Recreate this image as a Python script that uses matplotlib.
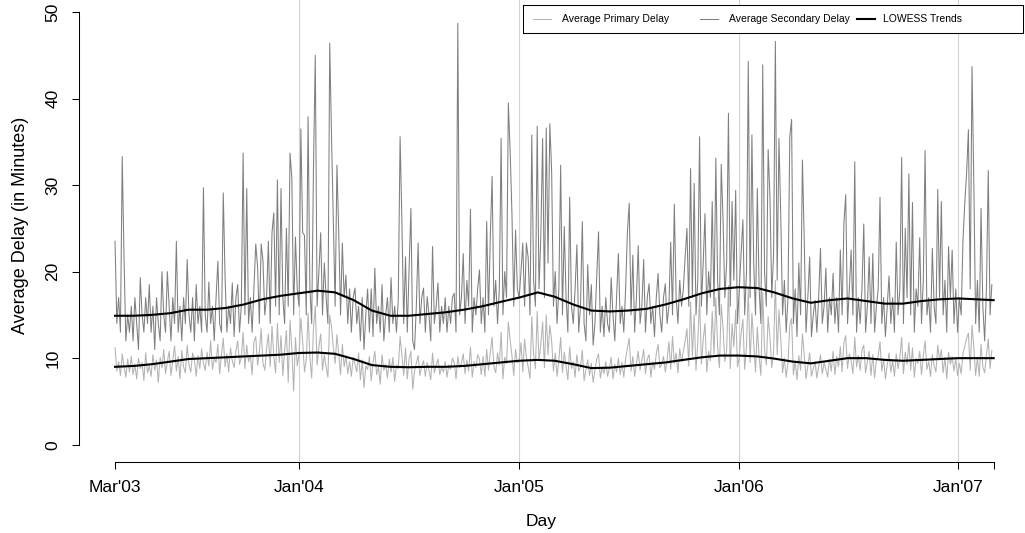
import pandas as pd
import matplotlib.pyplot as plt
import matplotlib.dates as mdates

plt.rcParams['font.family'] = ['Liberation Sans', 'DejaVu Sans']

# average delay (minutes), one value every third day from 1 Mar 2003
prim_2003 = [11.2, 8.5, 9.6, 8.0, 10.5, 9.0, 7.8, 9.9, 8.4, 10.2,
             8.1, 9.3, 7.6, 10.0, 8.8, 9.5, 7.4, 10.6, 8.3, 9.1,
             7.9, 10.4, 8.6, 9.8, 7.2, 10.1, 8.9, 11.0, 8.2, 9.6,
             10.8, 8.0, 9.7, 11.4, 8.5, 10.2, 7.6, 10.9, 9.0, 8.3,
             11.5, 9.2, 8.4, 10.6, 9.8, 7.9, 10.3, 8.8, 11.1, 9.4,
             8.6, 10.7, 9.1, 12.0, 8.7, 10.0, 9.5, 11.6, 8.2, 10.4,
             12.3, 9.0, 10.5, 8.4, 11.2, 9.7, 8.9, 10.8, 12.0, 9.3,
             10.1, 13.0, 8.8, 11.5, 9.6, 10.3, 8.1, 11.9, 12.5, 9.2,
             10.7, 13.4, 9.4, 8.6, 11.1, 12.8, 9.0, 13.7, 10.2, 8.3,
             14.0, 9.5, 12.6, 8.0, 10.9, 13.2, 7.2, 14.4, 11.0, 6.2,
             12.4, 9.1]
prim_2004 = [10.5, 14.6, 12.0, 8.4, 9.8, 15.2, 10.1, 7.7, 13.5, 16.0,
             9.2, 11.3, 12.8, 8.6, 10.4, 9.0, 7.8, 15.0, 13.6, 11.2,
             9.4, 12.7, 10.5, 8.1, 11.6, 9.0, 10.3, 8.2, 9.6, 7.9,
             10.1, 9.3, 8.4, 10.6, 7.5, 9.8, 6.6, 9.1, 8.7, 10.2,
             7.4, 9.5, 10.8, 8.1, 9.0, 7.0, 10.4, 8.6, 9.3, 7.7,
             9.9, 8.4, 10.1, 7.3, 9.2, 8.8, 12.5, 10.4, 8.0, 11.2,
             7.6, 9.9, 10.8, 6.4, 8.5, 9.4, 10.3, 8.0, 9.1, 9.7,
             7.9, 9.5, 8.6, 7.5, 10.6, 8.3, 9.2, 9.9, 8.1, 9.0,
             8.4, 9.6, 7.8, 9.2, 8.7, 10.0, 9.5, 7.6, 10.2, 8.9,
             9.4, 10.5, 8.2, 9.8, 8.5, 11.3, 7.8, 9.6, 8.9, 10.4,
             9.9, 8.1, 10.2, 7.9, 11.0, 8.6, 10.7, 12.4, 9.0, 8.3,
             10.6, 9.2, 13.0, 7.6, 10.1, 9.4, 14.2, 12.1, 10.3, 8.0,
             11.0, 9.5]
prim_2005 = [9.6, 11.8, 8.4, 12.2, 10.1, 9.0, 7.6, 14.8, 10.5, 8.8,
             15.4, 9.7, 11.6, 14.2, 8.9, 15.0, 10.4, 13.8, 12.0, 8.5,
             10.6, 7.9, 9.8, 12.4, 8.3, 10.7, 9.1, 7.5, 11.3, 8.8,
             9.6, 7.8, 10.4, 8.5, 9.0, 10.9, 7.4, 8.7, 9.8, 8.0,
             9.4, 7.2, 8.6, 9.9, 10.5, 7.7, 9.0, 8.2, 9.6, 7.9,
             8.8, 10.1, 7.6, 9.3, 8.4, 10.0, 8.1, 9.5, 7.8, 9.9,
             11.2, 12.3, 8.5, 10.2, 7.9, 9.4, 10.8, 8.6, 9.7, 11.0,
             8.2, 9.9, 10.4, 7.8, 9.6, 8.7, 10.5, 11.6, 8.9, 9.3,
             10.2, 8.4, 9.8, 11.9, 8.7, 12.5, 9.4, 10.6, 8.3, 11.1,
             9.6, 10.8, 12.0, 13.4, 9.1, 16.5, 10.2, 15.0, 8.6, 11.7,
             17.2, 9.3, 12.1, 14.0, 8.4, 10.8, 9.7, 15.4, 10.5, 17.0,
             11.2, 8.9, 16.2, 13.5, 9.6, 10.9, 18.4, 8.8, 14.0, 11.3,
             15.6, 9.0]
prim_2006 = [10.2, 12.8, 14.5, 8.7, 11.4, 18.0, 9.5, 15.2, 11.8, 8.4,
             13.6, 10.1, 8.0, 17.6, 11.0, 9.2, 14.8, 12.4, 8.9, 10.7,
             19.0, 10.4, 15.6, 12.2, 8.3, 10.0, 7.8, 9.5, 13.8, 14.6,
             8.1, 9.7, 7.5, 10.3, 8.6, 12.8, 10.4, 7.6, 9.1, 10.6,
             7.9, 8.8, 9.6, 7.7, 9.0, 10.4, 8.2, 9.5, 8.7, 7.8,
             9.9, 8.5, 10.8, 8.1, 10.2, 9.0, 11.3, 8.4, 11.8, 12.6,
             8.8, 10.5, 9.7, 8.2, 12.4, 9.0, 10.3, 8.6, 10.9, 11.5,
             8.3, 9.6, 10.8, 8.0, 10.4, 7.7, 9.8, 10.2, 11.9, 8.5,
             9.9, 7.6, 9.2, 10.6, 8.4, 9.7, 7.9, 10.5, 8.8, 10.0,
             12.4, 8.2, 10.7, 9.3, 11.8, 8.6, 11.2, 7.8, 10.0, 9.4,
             10.8, 8.1, 10.3, 12.0, 8.7, 9.6, 7.9, 10.4, 9.1, 8.4,
             11.5, 9.8, 11.0, 8.3, 10.1, 7.6, 10.7, 9.3, 10.2, 8.5,
             9.9, 8.0]
prim_2007 = [9.4, 8.2, 10.6, 11.4, 12.3, 12.9, 8.6, 13.8, 11.2, 8.0,
             10.1, 7.9, 11.6, 9.0, 8.3, 10.4, 12.2, 8.8, 10.9]

sec_2003 = [23.5, 14, 17, 13, 33.3, 21.4, 12, 15, 13, 16,
            12, 17, 14, 11, 19.3, 15, 13, 17, 14, 18.5,
            13, 16, 11, 17, 14, 12, 20, 15, 13, 20,
            16, 12, 17, 14, 23.5, 13, 16, 12, 17, 14,
            21.4, 15, 13, 17, 12, 18.5, 14, 16, 13, 29.7,
            15, 13, 18.8, 14, 16, 12, 17, 21.2, 14, 13,
            29.1, 19.3, 13, 16, 14, 18.7, 12.5, 17, 18.5, 13,
            16, 33.7, 15, 29.6, 14, 17, 13, 18, 23.2, 20.6,
            14, 23.2, 21.3, 15, 17, 23.5, 14, 24.5, 26.8, 16,
            30.6, 15, 29.6, 17, 14, 25.0, 16, 33.7, 30.8, 15,
            24.0, 18]
sec_2004 = [16, 36.5, 24.5, 24.2, 15, 37.9, 18, 14, 32.1, 45.0,
            16, 20, 24.5, 15, 21, 17, 14, 46.4, 35.6, 26,
            16, 32.3, 24.5, 15, 23.3, 17, 19.6, 14, 18, 13,
            17, 18.1, 14, 16, 12, 17, 11, 15, 18, 13,
            18, 12.5, 20.4, 14, 16, 13, 18.5, 12, 15, 17,
            13, 19.3, 14, 16, 13, 16.8, 35.6, 25.8, 14, 21.7,
            13, 20.4, 27.3, 12, 11, 16, 23.3, 14, 17, 18.1,
            13, 17.1, 15, 12, 22.9, 14, 16, 18.7, 13, 16,
            14, 17, 13, 16, 14, 17, 17.5, 13, 48.7, 15,
            17, 22.1, 14, 19, 16, 27.2, 13, 17, 15, 18,
            20.2, 14, 17, 13, 25.8, 15, 24.0, 31.0, 16, 19,
            14, 18, 35.4, 15, 20, 17, 39.5, 33.9, 26.7, 16,
            24.8, 18]
sec_2005 = [17, 20, 23.3, 16, 23.3, 21.6, 15, 35.8, 19, 16,
            36.8, 18, 24.0, 35.4, 17, 36.6, 21, 37.1, 31.6, 16,
            20, 14, 18, 32.3, 15, 25.2, 17, 13, 28.6, 16,
            14, 18, 23.1, 13, 16, 25.8, 14, 12, 20.8, 15,
            18.5, 11.5, 14, 19.5, 24.6, 13, 16, 12.5, 17, 14,
            13, 19.3, 15, 12, 17, 22.1, 14, 16, 13, 18,
            24.6, 27.9, 15, 21.9, 13, 17, 23, 14, 16, 21.4,
            13, 17, 18.6, 14, 16, 12.5, 17, 19.8, 15, 13,
            17, 18.6, 14, 16, 23.4, 15, 27.8, 17, 14, 19,
            16, 18, 21.7, 25.0, 16, 31.9, 17, 30.2, 15, 19,
            35.6, 16, 21, 26.7, 15, 20, 17, 28.1, 16, 33.1,
            19, 15, 32.4, 26, 17, 21, 38.3, 16, 28.1, 19,
            29.4, 14]
sec_2006 = [18, 22, 26, 15, 20, 44.3, 17, 35.8, 21, 15,
            29.6, 18, 14, 43.9, 20, 16, 34.1, 28.7, 17, 22,
            46.6, 19, 35.4, 26.4, 15, 19, 13, 17, 35.6, 37.6,
            14, 18, 12.5, 21.0, 15, 32.9, 23.7, 13, 17, 21.7,
            12.5, 15, 16.7, 13, 17, 22.7, 14, 16, 20.4, 13,
            17, 15, 19.8, 14, 17, 13, 22.5, 15, 25.6, 28.9,
            14, 18, 22.5, 15, 32.7, 13, 17, 14, 18, 25.5,
            13, 16, 21.7, 14, 22.1, 13, 16, 18, 28.6, 14,
            17, 12.5, 16, 19.5, 14, 17, 13, 23.4, 15, 18,
            33.2, 14, 25.0, 17, 31.3, 15, 28.0, 13, 18, 16,
            23.9, 14, 19, 34.0, 15, 17, 13, 22.7, 16, 14,
            29.5, 17, 28.1, 15, 19, 13, 22.9, 17, 22.5, 14,
            18, 13]
sec_2007 = [17, 15, 23.7, 28, 31.4, 36.4, 18, 43.7, 30.2, 14,
            19, 13, 27.3, 16, 12, 18, 31.7, 15, 18.5]

# LOWESS fits, sampled at the start of each month
prim_trend = [9.0, 9.1, 9.3, 9.6, 9.9, 10.0, 10.1, 10.2, 10.3, 10.4,
              10.6, 10.65, 10.5, 9.9, 9.2, 9.0, 8.95, 9.0, 9.0, 9.1,
              9.3, 9.5, 9.7, 9.8, 9.7, 9.3, 8.85, 8.9, 9.1, 9.3,
              9.5, 9.8, 10.1, 10.3, 10.3, 10.2, 9.95, 9.6, 9.4, 9.7,
              10.0, 10.0, 9.8, 9.7, 9.8, 9.9, 10.0, 10.0, 10.0]
sec_trend = [14.9, 14.9, 15.0, 15.2, 15.6, 15.6, 15.8, 16.2, 16.8, 17.2,
             17.5, 17.8, 17.6, 16.7, 15.5, 14.9, 14.9, 15.1, 15.3, 15.6,
             16.0, 16.5, 17.0, 17.6, 17.1, 16.2, 15.5, 15.4, 15.5, 15.7,
             16.2, 16.8, 17.5, 18.0, 18.2, 18.1, 17.6, 16.9, 16.4, 16.7,
             16.9, 16.6, 16.3, 16.3, 16.6, 16.8, 16.9, 16.8, 16.7]

tick_dates = ['2003-03-01', '2004-01-01', '2005-01-01', '2006-01-01', '2007-01-01', '2007-03-01']
tick_labels = ["Mar'03", "Jan'04", "Jan'05", "Jan'06", "Jan'07", ""]
year_starts = ['2004-01-01', '2005-01-01', '2006-01-01', '2007-01-01']

primary = prim_2003 + prim_2004 + prim_2005 + prim_2006 + prim_2007
secondary = sec_2003 + sec_2004 + sec_2005 + sec_2006 + sec_2007
days = pd.date_range('2003-03-01', periods=len(secondary), freq='3D')
months = pd.date_range('2003-03-01', periods=len(sec_trend), freq='MS')

fig = plt.figure(figsize=(10.25, 5.33), dpi=100)
ax = fig.add_axes([79 / 1025, 71 / 533, 946 / 1025, 462 / 533])

for d in pd.to_datetime(year_starts):
    ax.axvline(d, color='#d3d3d3', lw=0.8, zorder=0)

ax.plot(days, secondary, color='#7f7f7f', lw=0.75, zorder=2)
ax.plot(days, primary, color='#b3b3b3', lw=0.75, zorder=3)
ax.plot(months, prim_trend, color='black', lw=1.5, zorder=4)
ax.plot(months, sec_trend, color='black', lw=1.5, zorder=4)

t0 = mdates.date2num(pd.Timestamp('2003-03-01'))
ax.set_xlim(t0 - 59.9, t0 + 1513.1)
ax.set_ylim(-2, 51.39)

for s in ['top', 'right']:
    ax.spines[s].set_visible(False)
ax.spines['left'].set_bounds(0, 50)
ax.spines['bottom'].set_bounds(t0, mdates.date2num(pd.Timestamp('2007-03-01')))
ax.spines['left'].set_linewidth(0.75)
ax.spines['bottom'].set_linewidth(0.75)

ax.set_xticks(pd.to_datetime(tick_dates))
ax.set_xticklabels(tick_labels)
ax.set_yticks([0, 10, 20, 30, 40, 50])
ax.tick_params(axis='both', length=5, width=0.75, labelsize=12.5)
ax.tick_params(axis='x', pad=8)
ax.tick_params(axis='y', pad=8.5, labelrotation=90)
for lab in ax.get_yticklabels():
    lab.set_va('center')

ax.set_ylabel('Average Delay (in Minutes)', fontsize=13)
ax.yaxis.set_label_coords(-0.0525, 0.513)
ax.set_xlabel('Day', fontsize=12.5)
ax.xaxis.set_label_coords(0.488, -0.112)

# horizontal legend box in the top-right corner
lg = fig.add_axes([523 / 1025, (533 - 33) / 533, 500 / 1025, 28 / 533])
lg.set_xlim(523, 1023)
lg.set_ylim(33, 5)
lg.set_xticks([])
lg.set_yticks([])
for s in lg.spines.values():
    s.set_linewidth(0.75)
entries = [('Average Primary Delay', '#b3b3b3', 0.75, 533, 562),
           ('Average Secondary Delay', '#7f7f7f', 0.75, 700, 729),
           ('LOWESS Trends', 'black', 1.5, 857, 883)]
for text, col, w, x, tx in entries:
    lg.plot([x, x + 18], [19, 19], color=col, lw=w)
    lg.text(tx, 19, text, fontsize=7.5, va='center', ha='left')

fig.savefig('out.png', dpi=100)
